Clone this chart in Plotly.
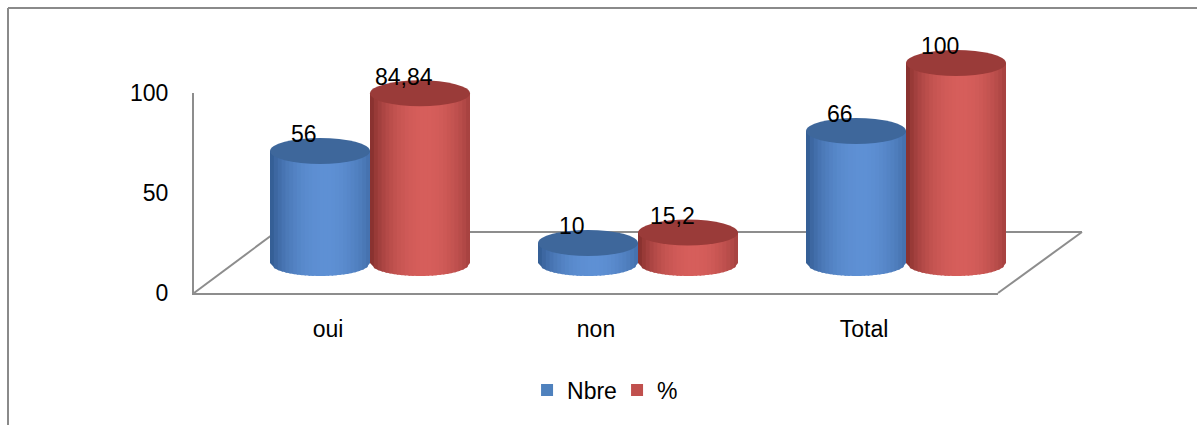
import plotly.graph_objects as go
import math

categories = ["oui", "non", "Total"]
nbre = [56, 10, 66]
pct = [84.84, 15.2, 100]
series_names = ["Nbre", "%"]
y_ticks = [0, 50, 100]

W, H = 1197, 425
FONT = "Liberation Sans, Arial, sans-serif"


def px(x):
    return x / W


def py(y):
    return (H - y) / H


# bar geometry (in x2 units, 1 category = 268 px)
BW = 100 / 268
LBL_DX = -16 / 268
LBL_DY = 8.3
EH = 6.5  # ellipse half height in value units

series = [
    dict(name=series_names[0], vals=nbre, offset=-BW, color="#4F81BD",
         dark=(48, 88, 142), light=(94, 144, 212), top="#3E679B"),
    dict(name=series_names[1], vals=pct, offset=0.0, color="#C0504D",
         dark=(128, 44, 42), light=(214, 94, 91), top="#9A3B39"),
]

fig = go.Figure()

# invisible trace so the front (tick) axes are drawn
fig.add_trace(go.Scatter(x=[0], y=[0], mode="markers", marker=dict(opacity=0),
                         xaxis="x", yaxis="y", showlegend=False, hoverinfo="skip"))

for s in series:
    fig.add_trace(go.Bar(
        x=list(range(len(categories))), y=s["vals"], name=s["name"],
        width=BW, offset=s["offset"], marker=dict(color=s["color"], line=dict(width=0)),
        xaxis="x2", yaxis="y2", hoverinfo="skip",
    ))

shapes = []
# border
shapes.append(dict(type="line", xref="paper", yref="paper", x0=px(8), y0=py(8), x1=1, y1=py(8),
                   line=dict(color="#8a8a8a", width=2)))
shapes.append(dict(type="line", xref="paper", yref="paper", x0=px(8), y0=py(8), x1=px(8), y1=0,
                   line=dict(color="#8a8a8a", width=2)))
# floor (back edge and diagonals)
floor_col = "#8d8d8d"
for (a, b, c, d) in [(194, 293, 276, 232), (276, 232, 1082, 232), (998, 293, 1082, 232)]:
    shapes.append(dict(type="line", xref="paper", yref="paper", layer="below",
                       x0=px(a), y0=py(b), x1=px(c), y1=py(d),
                       line=dict(color=floor_col, width=2)))


def shade(t, dark, light):
    g = 1 - ((t - 0.55) / 0.55) ** 2
    g = max(0.0, g) ** 0.8
    return "rgb(%d,%d,%d)" % tuple(round(dark[k] + (light[k] - dark[k]) * g) for k in range(3))


N = 26
annotations = []
for i in range(len(categories)):
    for s in series:
        v = s["vals"][i]
        xl = i + s["offset"]
        r = BW / 2
        c = xl + r
        dx = BW / N
        for j in range(N):
            xa = xl + j * dx
            xb = min(xl + BW, xa + dx * 1.4)
            ya = -EH * math.sqrt(max(0.0, 1 - ((xa - c) / r) ** 2))
            yb = -EH * math.sqrt(max(0.0, 1 - ((xb - c) / r) ** 2))
            col = shade((j + 0.5) / N, s["dark"], s["light"])
            path = f"M{xa},{ya} L{xa},{v} L{xb},{v} L{xb},{yb} Z"
            shapes.append(dict(type="path", xref="x2", yref="y2", path=path, layer="above",
                               fillcolor=col, line=dict(width=0)))
        shapes.append(dict(type="circle", xref="x2", yref="y2", layer="above",
                           x0=xl, x1=xl + BW, y0=v - EH, y1=v + EH,
                           fillcolor=s["top"], line=dict(width=0)))
        annotations.append(dict(
            x=c + LBL_DX, y=v + LBL_DY, xref="x2", yref="y2",
            text=f"{v:g}".replace(".", ","), showarrow=False,
            font=dict(family=FONT, size=23, color="black"),
            xanchor="center", yanchor="middle",
        ))

fig.update_layout(
    width=W, height=H,
    margin=dict(l=0, r=0, t=0, b=0, pad=0, autoexpand=False),
    paper_bgcolor="white", plot_bgcolor="rgba(0,0,0,0)",
    barmode="overlay",
    showlegend=True,
    legend=dict(orientation="h", x=0.5155, xanchor="center", y=py(390), yanchor="middle",
                font=dict(family=FONT, size=23, color="black"),
                bgcolor="rgba(0,0,0,0)", itemwidth=30, traceorder="normal",
                entrywidth=45),
    xaxis=dict(domain=[px(194), px(998)], range=[-0.5, 2.5], anchor="y", automargin=False,
               tickmode="array", tickvals=list(range(len(categories))), ticktext=categories,
               showline=True, linecolor="#8d8d8d", linewidth=2, showgrid=False, zeroline=False,
               ticks="", ticklabelstandoff=14,
               tickfont=dict(family=FONT, size=23, color="black"), fixedrange=True),
    yaxis=dict(domain=[py(293), py(93)], range=[0, 100], anchor="x", automargin=False,
               tickmode="array", tickvals=y_ticks,
               showline=True, linecolor="#8d8d8d", linewidth=2, showgrid=False, zeroline=False,
               ticks="", ticklabelstandoff=19,
               tickfont=dict(family=FONT, size=23, color="black"), fixedrange=True),
    xaxis2=dict(domain=[px(370 - 0.65 * 268), px(906 + 0.65 * 268)], range=[-0.65, 2.65],
                anchor="y2", visible=False, fixedrange=True),
    yaxis2=dict(domain=[py(263 + 40), py(263 - 230)], range=[-20, 115],
                anchor="x2", visible=False, fixedrange=True),
    shapes=shapes,
    annotations=annotations,
    font=dict(family=FONT),
)

fig.write_html("out.html")
